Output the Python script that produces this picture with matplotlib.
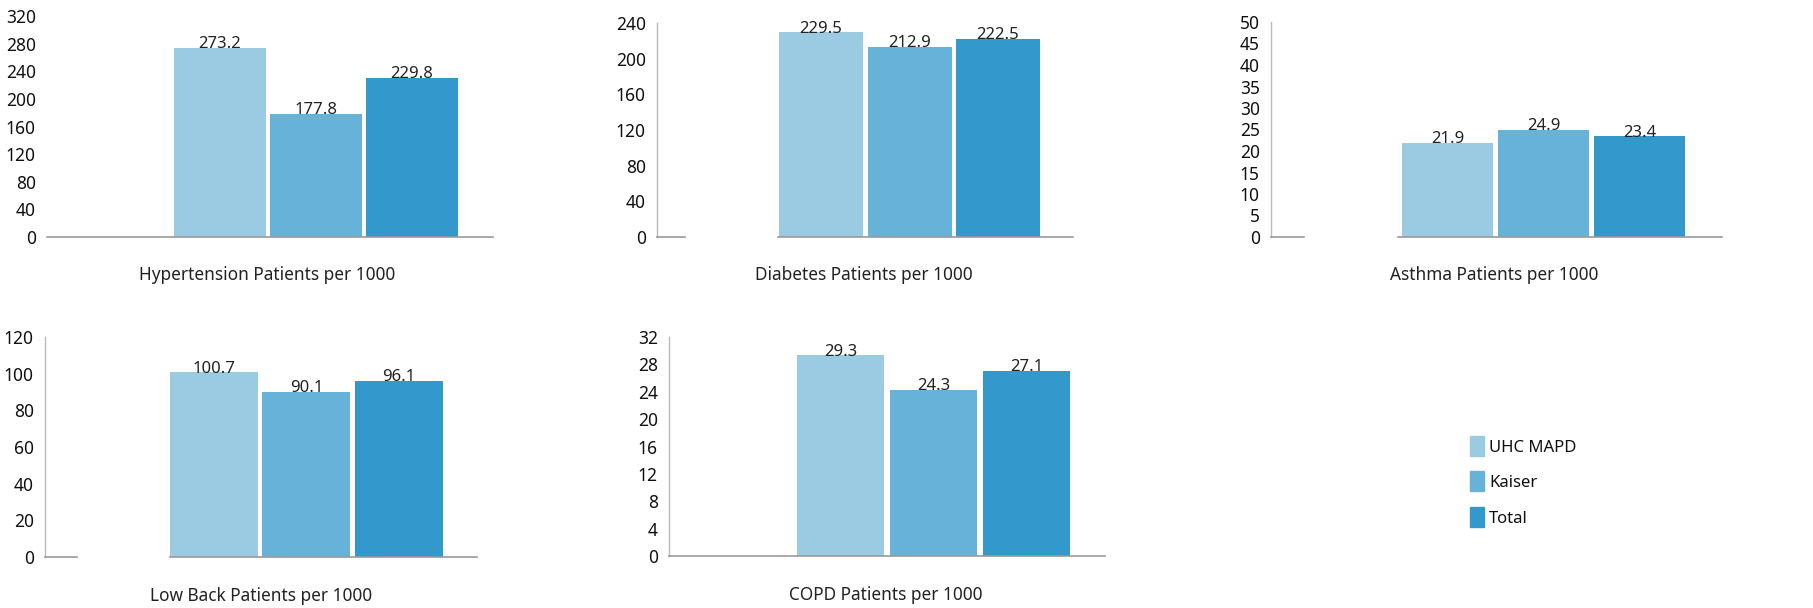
import matplotlib
matplotlib.use("Agg")
import matplotlib.pyplot as plt
from matplotlib.patches import Rectangle

# ---- data ----
series = ["UHC MAPD", "Kaiser", "Total"]
colors = ["#9acbe3", "#67b2d8", "#3399cc"]

titles = ["Hypertension Patients per 1000", "Diabetes Patients per 1000",
          "Asthma Patients per 1000", "Low Back Patients per 1000",
          "COPD Patients per 1000"]
hypertension = [273.2, 177.8, 229.8]
diabetes = [229.5, 212.9, 222.5]
asthma = [21.9, 24.9, 23.4]
low_back = [100.7, 90.1, 96.1]
copd = [29.3, 24.3, 27.1]
values = [hypertension, diabetes, asthma, low_back, copd]

ticks_list = [list(range(0, 321, 40)), list(range(0, 241, 40)),
              list(range(0, 51, 5)), list(range(0, 121, 20)),
              list(range(0, 33, 4))]

W, H = 1813, 608
fig = plt.figure(figsize=(W / 100, H / 100), dpi=100)
FONT = "Noto Sans"

# layout in pixels: axes left, right, top, bottom, first bar left, pitch, width,
# vertical spine?, baseline segments (pixel x ranges), title position
layouts = [
    dict(l=47, r=493, t=16, b=237, bl=174, p=96, w=92, vs=False,
         segs=[(47, 493)], ty=275, tx=267),
    dict(l=657, r=1073, t=23, b=237, bl=779, p=88.5, w=84, vs=True,
         segs=[(657, 685), (778, 1073)], ty=275, tx=864),
    dict(l=1271, r=1722, t=22, b=237, bl=1402, p=96, w=91, vs=True,
         segs=[(1271, 1304), (1398, 1722)], ty=275, tx=1494),
    dict(l=45, r=477, t=337, b=557, bl=170, p=92.5, w=88, vs=True,
         segs=[(45, 77), (170, 477)], ty=596, tx=261),
    dict(l=669, r=1105, t=337, b=556, bl=797, p=93, w=87, vs=True,
         segs=[(669, 1105)], ty=595, tx=886),
]

for i, L in enumerate(layouts):
    ax = fig.add_axes([L["l"] / W, 1 - L["b"] / H,
                       (L["r"] - L["l"]) / W, (L["b"] - L["t"]) / H])
    c0 = L["bl"] + L["w"] / 2
    ax.set_xlim((L["l"] - c0) / L["p"], (L["r"] - c0) / L["p"])
    tk = ticks_list[i]
    ax.set_ylim(0, tk[-1])
    bw = L["w"] / L["p"]
    ax.bar(range(len(series)), values[i], width=bw, color=colors, zorder=2)
    for j, v in enumerate(values[i]):
        ax.annotate(f"{v:.1f}", (j, v), xytext=(0, -3),
                    textcoords="offset points", ha="center", va="bottom",
                    fontsize=12, family=FONT, color="#222222", zorder=3)
    ax.set_yticks(tk)
    ax.set_yticklabels([str(t) for t in tk], fontsize=12.5, family=FONT,
                       color="#111111")
    ax.tick_params(axis="y", length=0, pad=8)
    ax.set_xticks([])
    for s in ["top", "right", "bottom"]:
        ax.spines[s].set_visible(False)
    if L["vs"]:
        ax.spines["left"].set_color("#bbbbbb")
        ax.spines["left"].set_linewidth(1)
    else:
        ax.spines["left"].set_visible(False)
    for (a, b) in L["segs"]:
        fig.add_artist(plt.Line2D([a / W, b / W], [1 - L["b"] / H] * 2,
                                  color="#999999", lw=1.2, zorder=5))
    fig.text(L["tx"] / W, 1 - L["ty"] / H, titles[i], ha="center",
             va="center", fontsize=12.4, family=FONT, color="#222222")

# legend
leg_y = [436, 471, 507]
for k, name in enumerate(series):
    fig.add_artist(Rectangle((1470 / W, 1 - (leg_y[k] + 20) / H), 14 / W,
                             20 / H, color=colors[k], transform=fig.transFigure))
    fig.text(1489 / W, 1 - (leg_y[k] + 12) / H, name, ha="left", va="center",
             fontsize=12, family=FONT, color="#111111")

fig.savefig("out.png", dpi=100)
